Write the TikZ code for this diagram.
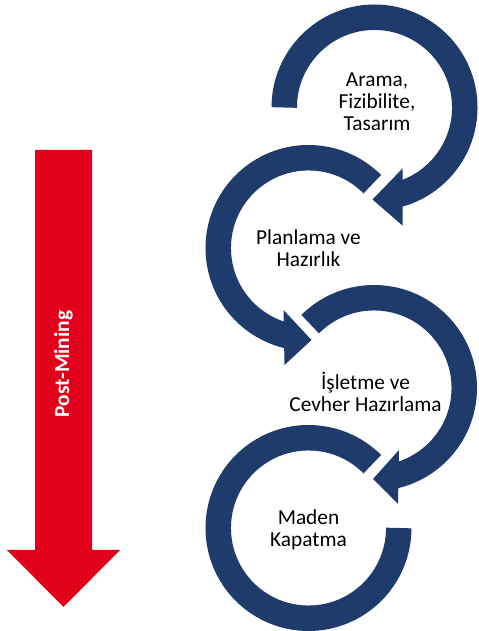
\documentclass[tikz,border=0pt]{standalone}
\usepackage{fontspec}
\setmainfont{Carlito}
\usetikzlibrary{calc}
\definecolor{ringblue}{RGB}{31,59,107}
\definecolor{postred}{RGB}{226,0,26}

\begin{document}
\begin{tikzpicture}[x=0.75pt, y=0.75pt,
    stage ring/.style={draw=ringblue, line width=19.1pt},
    stage head/.style={fill=ringblue},
    stage text/.style={align=center, font=\fontsize{16}{16.5}\selectfont, inner sep=0pt},
    post arrow/.style={fill=postred}]

    \useasboundingbox (0,0) rectangle (478,631);

    \coordinate (c1) at (374.5,523.5);
    \coordinate (c2) at (308.5,383);
    \coordinate (c3) at (374,243);
    \coordinate (c4) at (308.5,103);

    \draw [stage ring] ([shift={(180:67.7pt)}]c1) arc [start angle=180, end angle=-78, radius=67.7pt];
    \fill [stage head] ($(c1)+(-2,-92)$) -- ($(c1)+(28,-61)$) -- ($(c1)+(28,-118)$) -- cycle;

    \draw [stage ring] ([shift={(45:67.7pt)}]c2) arc [start angle=45, end angle=258, radius=67.7pt];
    \fill [stage head] ($(c2)+(3,-92)$) -- ($(c2)+(-25,-62)$) -- ($(c2)+(-24,-117)$) -- cycle;

    \draw [stage ring] ([shift={(135:67.7pt)}]c3) arc [start angle=135, end angle=-78, radius=67.7pt];
    \fill [stage head] ($(c3)+(-1,-91)$) -- ($(c3)+(25,-62)$) -- ($(c3)+(24,-116)$) -- cycle;

    \draw [stage ring] ([shift={(0:67.7pt)}]c4) arc [start angle=0, end angle=-315, radius=67.7pt];

    \node [stage text] (arama) at (377,529) {Arama,\\Fizibilite,\\Tasarım};
    \node [stage text] (planlama) at (308.5,382.5) {Planlama ve\\Hazırlık};
    \node [stage text] (isletme) at (365.5,238.7) {İşletme ve\\Cevher Hazırlama};
    \node [stage text] (kapatma) at (308.5,101.5) {Maden\\Kapatma};

    \fill [post arrow] (35,481) -- (92,481) -- (92,81) -- (120,81) -- (63.5,24) -- (7,81) -- (35,81) -- cycle;
    \node [rotate=90, text=white, font=\fontsize{16}{19}\selectfont\bfseries] (post) at (63.5,267) {Post-Mining};
\end{tikzpicture}
\end{document}
